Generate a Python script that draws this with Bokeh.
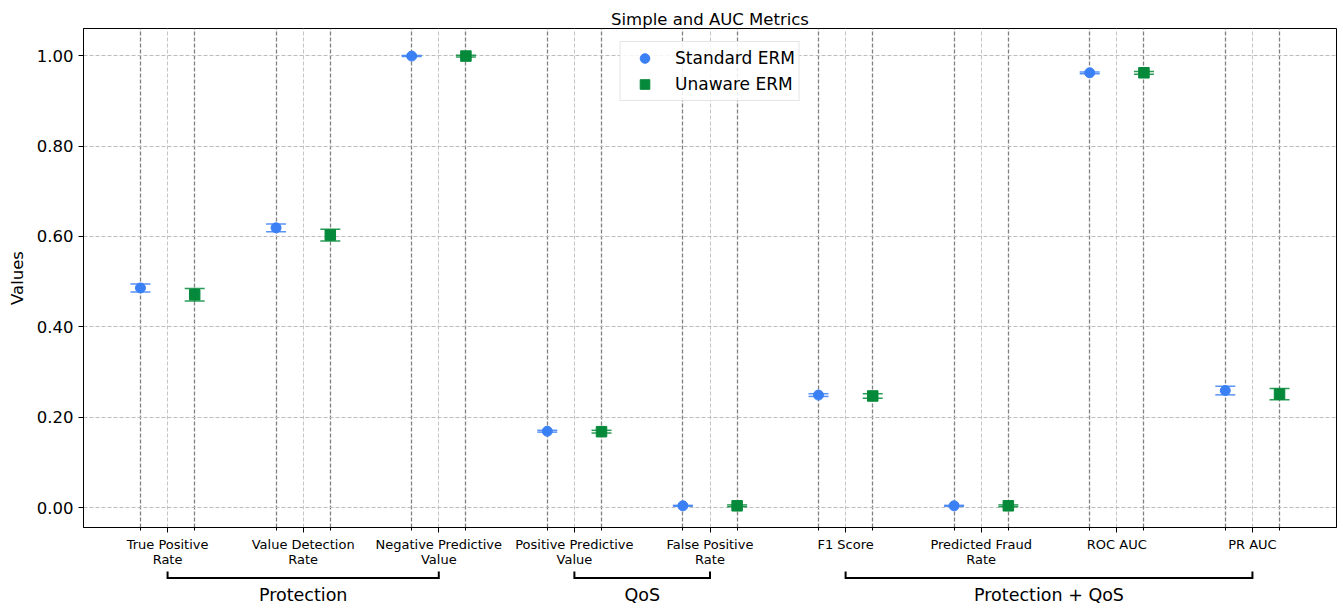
import math
from bokeh.plotting import figure
from bokeh.models import (ColumnDataSource, Range1d, FixedTicker, PrintfTickFormatter,
                          Whisker, TeeHead, Legend, LegendItem)
from bokeh.layouts import column
from bokeh.core.properties import value
from bokeh.embed import file_html
from bokeh.resources import INLINE

# ---------------- data ----------------
categories = ["True Positive\nRate", "Value Detection\nRate", "Negative Predictive\nValue",
              "Positive Predictive\nValue", "False Positive\nRate", "F1 Score",
              "Predicted Fraud\nRate", "ROC AUC", "PR AUC"]
std_mean = [0.486, 0.619, 0.999, 0.169, 0.004, 0.249, 0.004, 0.962, 0.259]
std_err = [0.009, 0.0085, 0.001, 0.002, 0.001, 0.003, 0.001, 0.002, 0.0095]
unaware_mean = [0.471, 0.603, 0.999, 0.168, 0.004, 0.247, 0.004, 0.962, 0.251]
unaware_err = [0.014, 0.013, 0.002, 0.003, 0.002, 0.005, 0.002, 0.003, 0.0125]
series_names = ["Standard ERM", "Unaware ERM"]
y_ticks = [0.0, 0.2, 0.4, 0.6, 0.8, 1.0]
group_names = ["Protection", "QoS", "Protection + QoS"]
group_start = [0, 3, 5]
group_end = [2, 4, 8]

# ---------------- style ----------------
FONT = "DejaVu Sans"
BLUE = "#3b80f5"
GREEN = "#05893a"
OFFSET = 0.2

n = len(categories)
centers = list(range(n))
x_std = [i - OFFSET for i in centers]
x_una = [i + OFFSET for i in centers]

x_range = Range1d(-0.62, n - 1 + 0.62)

p = figure(frame_width=1253, frame_height=499, x_range=x_range, y_range=Range1d(-0.044, 1.06),
           output_backend="svg", toolbar_location=None,
           min_border_left=83, min_border_right=4, min_border_top=28, min_border_bottom=39,
           background_fill_color="white", border_fill_color="white")
p.title.text = "Simple and AUC Metrics"
p.title.align = "center"
p.title.text_font = FONT
p.title.text_font_size = "16.5px"
p.title.text_font_style = "normal"
p.title.text_color = "black"
p.title.text_line_height = 1.0
p.title.standoff = 0
p.title.offset = 0

p.outline_line_color = "black"
p.outline_line_width = 1
p.outline_line_alpha = 1

# axes
p.xaxis.ticker = FixedTicker(ticks=centers, minor_ticks=x_std + x_una)
p.xaxis.major_label_overrides = {i: c for i, c in enumerate(categories)}
p.xaxis.major_label_text_font = FONT
p.xaxis.major_label_text_font_size = "13px"
p.xaxis.major_label_text_color = "black"
p.xaxis.major_label_text_line_height = 1.0
p.xaxis.major_tick_out = 5
p.xaxis.major_tick_in = 0
p.xaxis.minor_tick_out = 3
p.xaxis.minor_tick_in = 0
p.xaxis.axis_line_color = "black"
p.xaxis.major_label_standoff = 4

p.yaxis.ticker = FixedTicker(ticks=y_ticks)
p.yaxis.formatter = PrintfTickFormatter(format="%.2f")
p.yaxis.major_label_text_font = FONT
p.yaxis.major_label_text_font_size = "16.5px"
p.yaxis.major_label_text_color = "black"
p.yaxis.major_tick_out = 5
p.yaxis.major_tick_in = 0
p.yaxis.minor_tick_out = 0
p.yaxis.minor_tick_in = 0
p.yaxis.axis_line_color = "black"
p.yaxis.major_label_standoff = 5
p.yaxis.axis_label = "Values"
p.yaxis.axis_label_text_font = FONT
p.yaxis.axis_label_text_font_size = "16.5px"
p.yaxis.axis_label_text_font_style = "normal"
p.yaxis.axis_label_text_color = "black"
p.yaxis.axis_label_standoff = 7

# grids
p.ygrid.grid_line_color = "#bdbdbd"
p.ygrid.grid_line_dash = "4 2"
p.ygrid.grid_line_width = 1
p.xgrid.ticker = FixedTicker(ticks=centers, minor_ticks=x_std + x_una)
p.xgrid.grid_line_color = "#c4c4c4"
p.xgrid.grid_line_dash = "4 2"
p.xgrid.grid_line_width = 1
p.xgrid.minor_grid_line_color = "#808080"
p.xgrid.minor_grid_line_dash = "4 2"
p.xgrid.minor_grid_line_width = 1.3

# sources
src_std = ColumnDataSource(dict(x=x_std, y=std_mean,
                                lo=[m - e for m, e in zip(std_mean, std_err)],
                                hi=[m + e for m, e in zip(std_mean, std_err)]))
src_una = ColumnDataSource(dict(x=x_una, y=unaware_mean,
                                lo=[m - e for m, e in zip(unaware_mean, unaware_err)],
                                hi=[m + e for m, e in zip(unaware_mean, unaware_err)]))

for src, col in ((src_std, BLUE), (src_una, GREEN)):
    wk = Whisker(source=src, base="x", lower="lo", upper="hi", dimension="height",
                 line_color=col, line_width=1.5, line_alpha=0.85,
                 upper_head=TeeHead(size=20, line_color=col, line_width=1.5, line_alpha=0.85),
                 lower_head=TeeHead(size=20, line_color=col, line_width=1.5, line_alpha=0.85),
                 level="glyph")
    p.add_layout(wk)

r_std = p.scatter("x", "y", source=src_std, marker="circle", size=10,
                  fill_color=BLUE, line_color=BLUE)
r_una = p.scatter("x", "y", source=src_una, marker="square", size=10.5,
                  fill_color=GREEN, line_color=GREEN)

legend = Legend(items=[LegendItem(label=series_names[0], renderers=[r_std]),
                       LegendItem(label=series_names[1], renderers=[r_una])],
                location="top_center", margin=13, padding=4, spacing=2,
                glyph_width=40, glyph_height=24, label_standoff=11,
                label_text_font=FONT, label_text_font_size="17px",
                label_text_color="black",
                border_line_color="#cccccc", border_line_width=1,
                background_fill_color="white", background_fill_alpha=0.85)
p.add_layout(legend)

# ---------------- bracket strip ----------------
b = figure(frame_width=1253, frame_height=40, x_range=x_range, y_range=Range1d(0, 40),
           output_backend="svg", toolbar_location=None,
           min_border_left=83, min_border_right=4, min_border_top=0, min_border_bottom=0,
           x_axis_location=None, y_axis_location=None,
           background_fill_color="white", border_fill_color="white")
b.outline_line_color = None
b.xgrid.visible = False
b.ygrid.visible = False

LINE_Y = 31.5
TICK_TOP = 38
LABEL_Y = 15
b.segment(x0=group_start, x1=group_end, y0=[LINE_Y] * len(group_names),
          y1=[LINE_Y] * len(group_names), line_color="black", line_width=2)
b.segment(x0=group_start + group_end, x1=group_start + group_end,
          y0=[LINE_Y - 1] * (2 * len(group_names)), y1=[TICK_TOP] * (2 * len(group_names)),
          line_color="black", line_width=2)
b.text(x=[(s + e) / 2 for s, e in zip(group_start, group_end)], y=[LABEL_Y] * len(group_names),
       text=group_names, text_align="center", text_baseline="middle",
       text_font=value(FONT), text_font_size="17.5px", text_color="black")

layout = column(p, b, spacing=0)
open("out.html", "w").write(file_html(layout, INLINE))
